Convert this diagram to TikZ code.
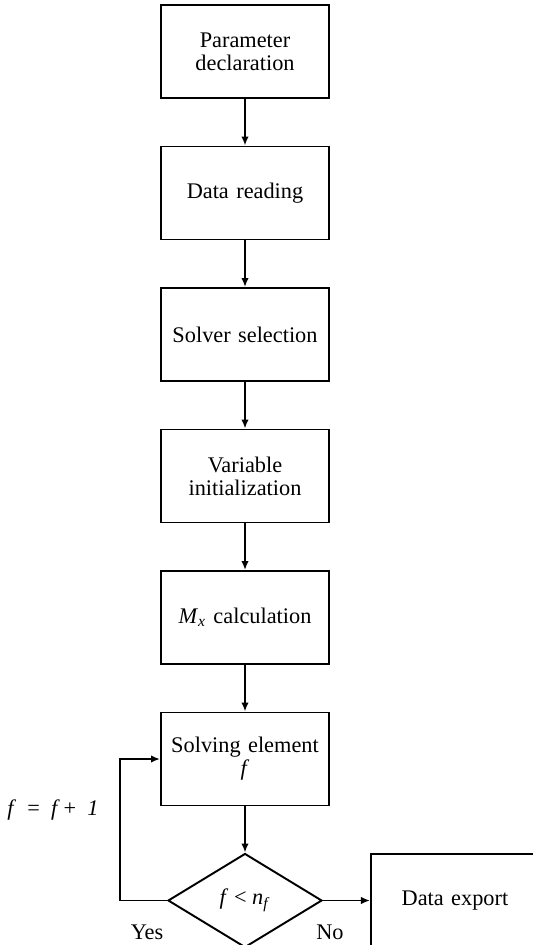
\documentclass[tikz,border=0pt]{standalone}
\usepackage{fontspec}
\setmainfont{Liberation Serif}
\usepackage{tikz}
\usetikzlibrary{shapes.geometric,positioning,arrows.meta}
\tikzstyle{arrow} = [line width=1.1pt,-{Latex[length=1.8mm,width=1.5mm]}]
\tikzstyle{flownode} = [rectangle, minimum width=3.36cm, minimum
height=1.86cm,text centered, text width=3.1cm, draw=black, line width=1.1pt, anchor=center,
font=\fontsize{12.7}{13.1}\selectfont]
\tikzstyle{decnode} = [diamond, minimum width=3.08cm, minimum height=1.88cm,
inner sep=0pt, draw=black, line width=1.1pt, font=\fontsize{12.7}{13.1}\selectfont]
\tikzstyle{textlabel} = [font=\fontsize{12.7}{13.1}\selectfont]

\begin{document}
\begin{tikzpicture}[node distance=2.83cm]
      \useasboundingbox (0,0) rectangle (10.66,-18.9);
      \node (0) [flownode] at (4.9,-1.03) { Parameter\\declaration };
      \node (1) [flownode, below of=0]{ Data reading };
      \node (2) [flownode, below of=1]{ Solver selection };
      \node (3) [flownode, below of=2]{ Variable\\initialization };
      \node (4) [flownode, below of=3]{ \textit{M}\textsubscript{\textit{x}} calculation };
      \node (5) [flownode, below of=4]{ Solving element\\\textit{f} };
      \node (6) [decnode, below of=5]{ \textit{f} < \textit{n}\textsubscript{\textit{f}} };
      \node (7) [flownode, right=0.94cm of 6]{ Data export };

      \node (yes) [textlabel] at (2.94,-18.64) {Yes};
      \node (no) [textlabel] at (6.6,-18.64) {No};
      \node (incr) [textlabel] at (1.06,-16.2)
        {\textit{f}\enspace=\enspace\textit{f}\,+\enspace\textit{1}};

      \draw [arrow] (0) -- (1);
      \draw [arrow] (1) -- (2);
      \draw [arrow] (2) -- (3);
      \draw [arrow] (3) -- (4);
      \draw [arrow] (4) -- (5);
      \draw [arrow] (5) -- (6);
      \draw [arrow] (6) -- (7);
      \draw [arrow] (6.west) -- ++(-0.94,0) |- (5.west);
    \end{tikzpicture}
\end{document}
